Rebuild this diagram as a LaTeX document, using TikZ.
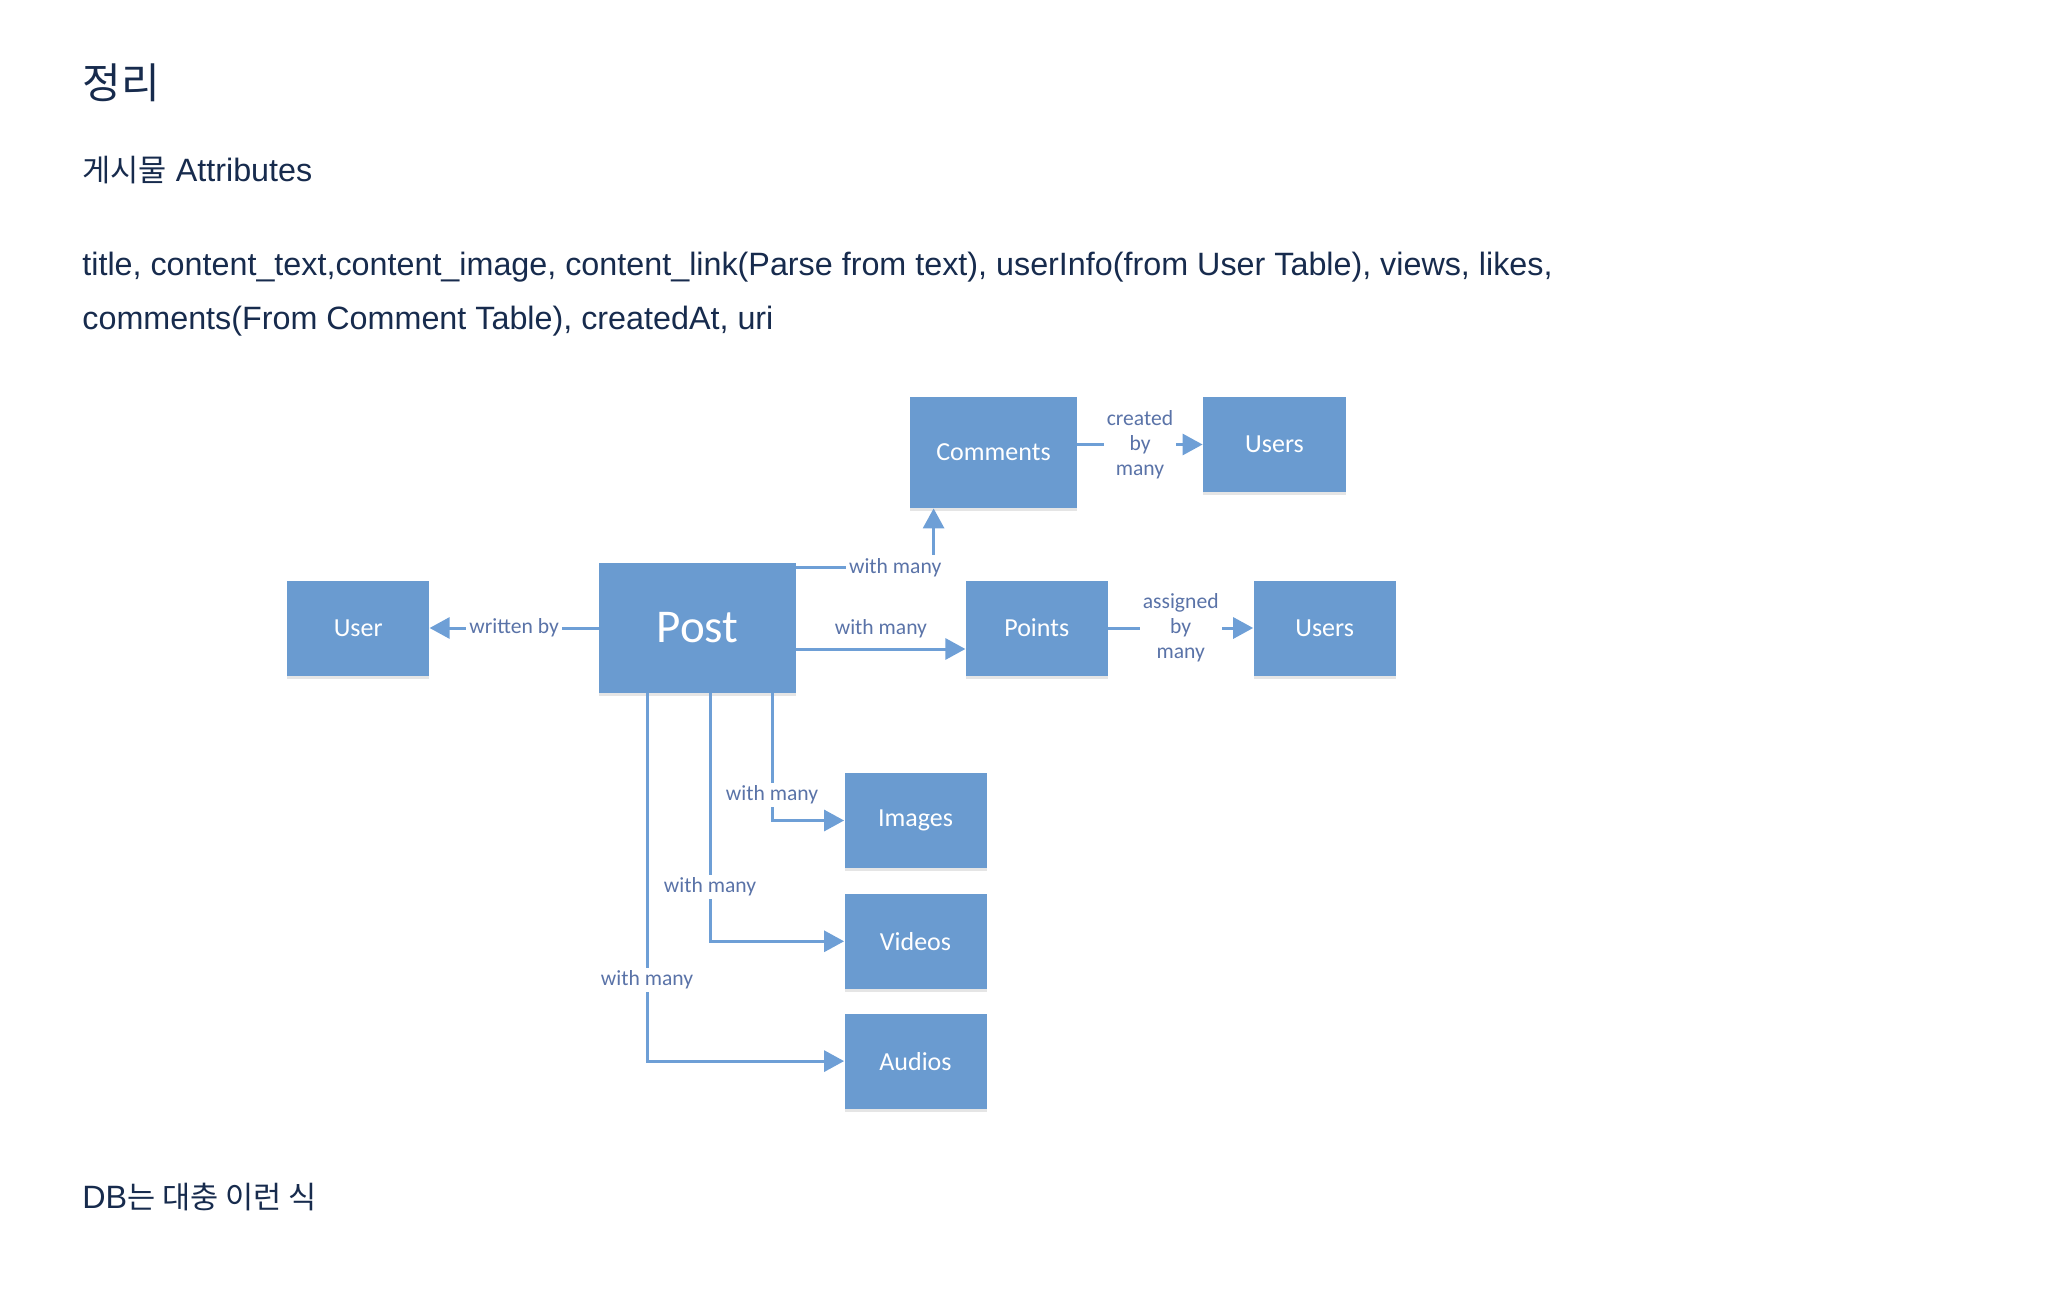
\documentclass[tikz,border=0pt]{standalone}
\usepackage{fontspec}
\setmainfont{Liberation Sans}
\newfontfamily\krfont{Noto Sans CJK KR}
\newfontfamily\boxfont{Carlito}
\usetikzlibrary{arrows.meta, positioning, shadows}
\definecolor{pageText}{HTML}{172B4D}
\definecolor{boxBlue}{HTML}{6A9BD0}
\definecolor{linkBlue}{HTML}{6E9FD6}
\definecolor{lblBlue}{HTML}{5A73A8}
\newcommand{\kr}[1]{{\krfont\fontsize{15.3}{19}\selectfont #1}}

\begin{document}
\begin{tikzpicture}[x=0.5pt, y=-0.5pt,
    entity/.style={rectangle, fill=boxBlue, text=white, inner sep=0pt,
                 minimum width=71pt, minimum height=47.5pt,
                 font=\boxfont\fontsize{13}{15}\selectfont,
                 drop shadow={shadow xshift=0pt, shadow yshift=-1.5pt,
                   opacity=0.25, fill=black!40}},
    link/.style={-{Triangle[length=10pt, width=10.5pt]}, line width=1.5pt, linkBlue},
    lbl/.style={font=\boxfont\fontsize{10.8}{12.5}\selectfont, text=lblBlue,
                inner sep=1.5pt},
    para/.style={anchor=base west, inner sep=0pt, text=pageText,
                 font=\fontsize{16.15}{19}\selectfont},
  ]
    \useasboundingbox (0,0) rectangle (2069,1311);

    % page text
    \node[para, font=\krfont\fontsize{21}{25}\selectfont] (title) at (82,99) {정리};
    \node[para] (sub) at (82,182) {\kr{게시물} Attributes};
    \node[para] (attr1) at (82,275)
      {title, content\_text,content\_image, content\_link(Parse from text), userInfo(from User Table), views, likes,};
    \node[para] (attr2) at (82,329) {comments(From Comment Table), createdAt, uri};
    \node[para] (note) at (82,1208) {DB\kr{는 대충 이런 식}};

    % tables
    \node[entity, minimum width=98.5pt, minimum height=65pt,
          font=\boxfont\fontsize{23.5}{27}\selectfont] (post) at (697.5,628) {Post};
    \node[entity, left=84.5pt of post]    (user)     {User};
    \node[entity, right=84.5pt of post]   (points)   {Points};
    \node[entity, right=72.5pt of points] (ptusers)  {Users};
    \node[entity, minimum width=83.5pt, minimum height=55.5pt]
      (comments) at (993.5,452.5) {Comments};
    \node[entity, minimum width=71.5pt] (cmtusers) at (1274.5,444.5) {Users};
    \node[entity] (images) at (915.5,820.5) {Images};
    \node[entity, below=12.5pt of images] (videos) {Videos};
    \node[entity, below=12pt of videos]   (audios) {Audios};

    % relations
    \draw[link] (post) -- node[lbl, fill=white] {written by} (user);
    \draw[link] ([yshift=-2.5pt]post.north east) -|
      node[lbl, fill=white, pos=0.36] {with many} ([xshift=12pt]comments.south west);
    \draw[link] ([yshift=-10.5pt]post.east) --
      node[lbl, above=3.5pt] {with many} ([yshift=-10.5pt]points.west);
    \draw[link] ([xshift=37.25pt]post.south) |-
      node[lbl, fill=white, pos=0.4] {with many} (images);
    \draw[link] ([xshift=6.25pt]post.south) |-
      node[lbl, fill=white, pos=0.39] {with many} (videos);
    \draw[link] ([xshift=-25.25pt]post.south) |-
      node[lbl, fill=white, pos=0.39] {with many} (audios);
    \draw[link] (comments.east |- cmtusers.west) --
      node[lbl, fill=white, align=center] {created\\by\\many} (cmtusers);
    \draw[link] (points) --
      node[lbl, fill=white, align=center] {assigned\\by\\many} (ptusers);
  \end{tikzpicture}
\end{document}
